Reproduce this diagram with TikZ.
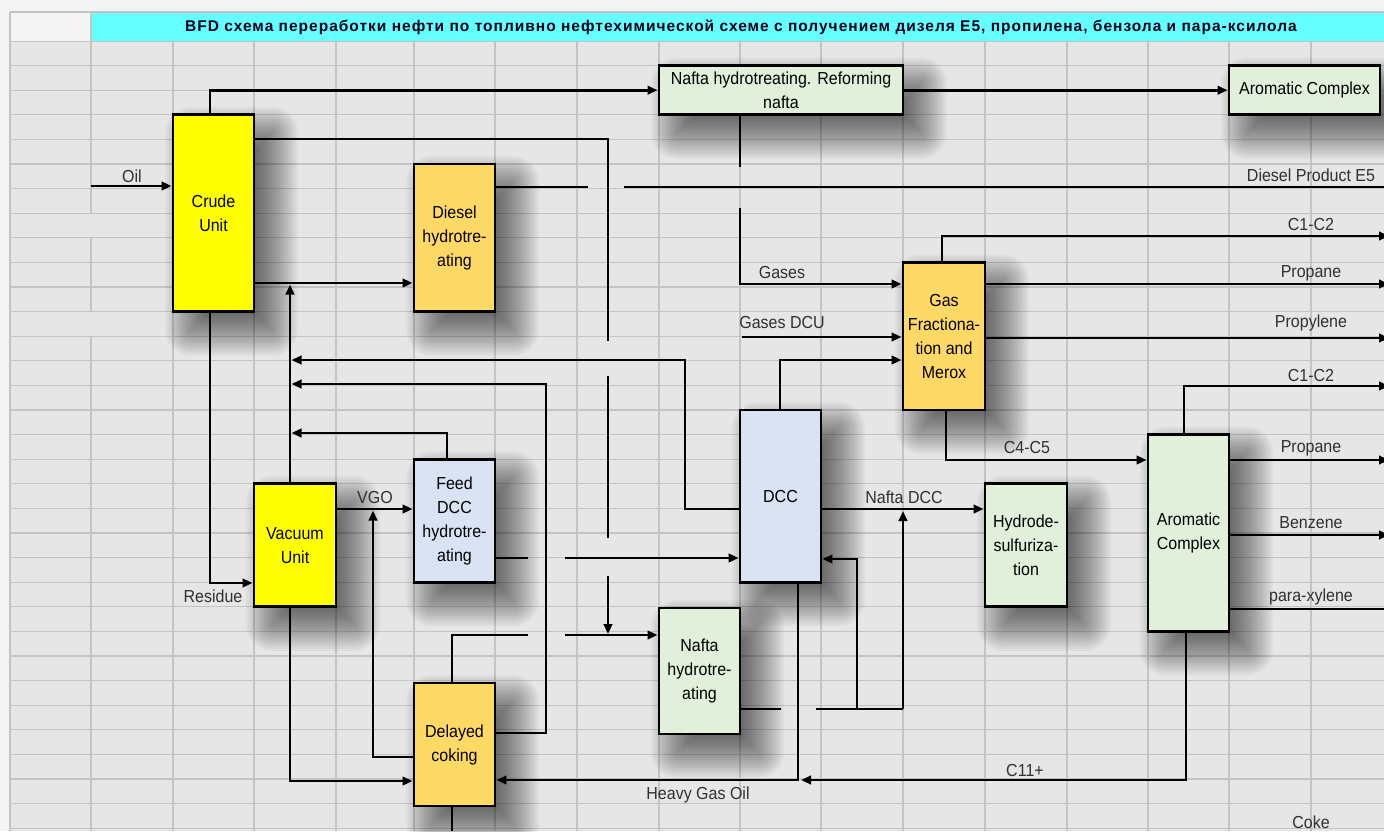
\documentclass[tikz,border=0pt]{standalone}
\usepackage{fontspec}
\setmainfont{Liberation Sans}
\newfontfamily\titlefont[LetterSpace=6.5]{Liberation Sans}
\newfontfamily\narrowsans[FakeStretch=0.92]{Liberation Sans}
\usetikzlibrary{arrows.meta}
\definecolor{cyel}{HTML}{FFFF00}
\definecolor{corg}{HTML}{FFD966}
\definecolor{cgrn}{HTML}{E2EFDA}
\definecolor{cblu}{HTML}{DAE3F3}
\definecolor{ctitle}{HTML}{66FFFF}
\definecolor{ccell}{HTML}{E6E6E6}
\definecolor{cgrid}{HTML}{C4C4C4}
\definecolor{clab}{HTML}{303030}
\definecolor{cout}{HTML}{F4F4F4}
\newcommand\boxfont{\narrowsans\fontsize{17.4}{24}\selectfont}
\newcommand\labfont{\narrowsans\fontsize{17.4}{19}\selectfont}
\newcommand\shbox[4]{%
  \foreach \e in {-18,-16,...,26}{%
    \pgfmathsetmacro\rr{max(\e,0.5)}%
    \fill[black,opacity=0.032,rounded corners=\rr pt] ({#1+18-(\e)},{#2+18-(\e)}) rectangle ({#3+18+(\e)},{#4+18+(\e)});
  }%
}
\tikzset{
  box/.style={draw=black, line width=2.9pt, align=center, inner sep=0pt, font=\boxfont, text=black},
  flow/.style={line width=2.7pt, -{Triangle[length=10pt,width=8.5pt]}},
  pipe/.style={line width=2.7pt},
  lab/.style={font=\labfont, text=clab, inner sep=0pt},
  gridl/.style={cgrid, line width=1.3pt}
}
\begin{document}
\begin{tikzpicture}[x=1pt,y=-1pt]
\useasboundingbox (0,0) rectangle (1384,831);
% background
\fill[cout] (0,0) rectangle (1384,831);
\fill[ccell] (10,12) rectangle (1384,831);
\foreach \k in {0,...,32} \draw[gridl] (10,{41+24.6*\k}) -- (1384,{41+24.6*\k});
\foreach \x in {173,254,336,414,495,577,659,740,821,903,985,1067,1148,1229,1311} \draw[gridl] (\x,41) -- (\x,831);
\draw[gridl] (91,41) -- (91,213.2);
\draw[gridl] (91,237.8) -- (91,311.6);
\draw[gridl] (91,336.2) -- (91,831);
\fill[cout] (10,12) rectangle (91,41);
\fill[ctitle] (91,12) rectangle (1384,41);
\draw[gridl] (10,12) -- (1384,12);
\draw[gridl] (10,12) -- (10,831);
\draw[gridl] (91,12) -- (91,41);
\node[font=\titlefont\bfseries\fontsize{15.5}{18}\selectfont, text=black!90!blue, inner sep=0pt] (title) at (741,27) {BFD схема переработки нефти по топливно нефтехимической схеме с получением дизеля Е5, пропилена, бензола и пара-ксилола};
% shadows
\shbox{173}{114.8}{254}{311.6}
\shbox{414}{164}{495}{311.6}
\shbox{659}{65.6}{903}{114.8}
\shbox{1229}{65.6}{1380}{114.8}
\shbox{903}{262.4}{985}{410}
\shbox{740}{410}{821}{582.2}
\shbox{254}{483.8}{336}{606.8}
\shbox{414}{459.2}{495}{582.2}
\shbox{985}{483.8}{1067}{606.8}
\shbox{1148}{434.6}{1229}{631.4}
\shbox{659}{608}{740}{734}
\shbox{414}{683}{495}{806}
% boxes
\node[box, fill=cyel, minimum width=81pt, minimum height=196.8pt] (crude) at (213.5,213.2) {Crude\\Unit};
\node[box, fill=corg, minimum width=81pt, minimum height=147.6pt] (dht) at (454.5,237.8) {Diesel\\hydrotre-\\ating};
\node[box, fill=cgrn, minimum width=244pt, minimum height=49.2pt] (nhr) at (781,90.2) {Nafta hydrotreating. Reforming\\nafta};
\node[box, fill=cgrn, minimum width=151pt, minimum height=49.2pt] (arom1) at (1304.5,90.2) {Aromatic Complex};
\node[box, fill=corg, minimum width=82pt, minimum height=147.6pt] (gfm) at (944,336.2) {Gas\\Fractiona-\\tion and\\Merox};
\node[box, fill=cblu, minimum width=81pt, minimum height=172.2pt] (dcc) at (780.5,496.1) {DCC};
\node[box, fill=cyel, minimum width=82pt, minimum height=123pt] (vac) at (295,545.3) {Vacuum\\Unit};
\node[box, fill=cblu, minimum width=81pt, minimum height=123pt] (fdcc) at (454.5,520.7) {Feed\\DCC\\hydrotre-\\ating};
\node[box, fill=cgrn, minimum width=82pt, minimum height=123pt] (hds) at (1026,545.3) {Hydrode-\\sulfuriza-\\tion};
\node[box, fill=cgrn, minimum width=81pt, minimum height=196.8pt] (arom2) at (1188.5,533) {Aromatic\\Complex};
\node[box, fill=cgrn, minimum width=81pt, minimum height=126pt] (nht) at (699.5,671) {Nafta\\hydrotre-\\ating};
\node[box, fill=corg, minimum width=81pt, minimum height=123pt] (dco) at (454.5,744.5) {Delayed\\coking};
% coordinates
\coordinate (oil0) at (91,186);
\coordinate (c2) at (210,89);
\coordinate (c3) at (0,283);
\coordinate (c4y) at (0,139);
\coordinate (c4a) at (608,341);
\coordinate (c4b) at (608,376);
\coordinate (c4c) at (608,538);
\coordinate (c4d) at (608,576);
\coordinate (c4e) at (608,634);
\coordinate (c5a) at (588,187);
\coordinate (c5b) at (624,187);
\coordinate (c5c) at (1384,187);
\coordinate (c7a) at (740,167);
\coordinate (c7b) at (740,208);
\coordinate (c7y) at (0,284);
\coordinate (c8) at (742,337);
\coordinate (c9) at (780,360);
\coordinate (c10x) at (942,0);
\coordinate (c10) at (1389,236);
\coordinate (c11) at (1389,284);
\coordinate (c12) at (1389,338);
\coordinate (c13x) at (946,460);
\coordinate (c14x) at (1184,0);
\coordinate (c14) at (1389,386);
\coordinate (c15) at (1389,460);
\coordinate (c16) at (1389,535);
\coordinate (c17) at (1384,609);
\coordinate (c18) at (0,509);
\coordinate (c19a) at (903,709);
\coordinate (c19b) at (903,511);
\coordinate (c20a) at (781,709);
\coordinate (c20b) at (816,709);
\coordinate (c21a) at (857,709);
\coordinate (c21y) at (0,559);
\coordinate (c22) at (798,780);
\coordinate (c23x) at (1186,0);
\coordinate (c23e) at (801,780);
\coordinate (c24) at (290,781);
\coordinate (c25) at (210,583);
\coordinate (c26) at (290,284.5);
\coordinate (c27a) at (685,509);
\coordinate (c27b) at (291.5,360);
\coordinate (c28a) at (546,733);
\coordinate (c28b) at (291.5,384);
\coordinate (c29x) at (447,433);
\coordinate (c29b) at (291.5,433);
\coordinate (c31a) at (373,757);
\coordinate (c31b) at (373,510.5);
\coordinate (c32a) at (528,558);
\coordinate (c32b) at (565,558);
\coordinate (c33a) at (452,635);
\coordinate (c33b) at (528,635);
\coordinate (c33c) at (565,635);
\coordinate (c34) at (452,831);
% connectors
\draw[flow] (oil0) -- (oil0 -| crude.west);
\draw[flow] (crude.north -| c2) |- (nhr.west);
\draw[flow] (crude.east |- c3) -- (dht.west |- c3);
\draw[pipe] (crude.east |- c4y) -| (c4a);
\draw[pipe] (c4b) -- (c4c);
\draw[flow] (c4d) -- (c4e);
\draw[pipe] (dht.east |- c5a) -- (c5a);
\draw[pipe] (c5b) -- (c5c);
\draw[flow] (nhr.east) -- (arom1.west);
\draw[pipe] (nhr.south -| c7a) -- (c7a);
\draw[flow] (c7b) |- (gfm.west |- c7y);
\draw[flow] (c8) -- (gfm.west |- c8);
\draw[flow] (dcc.north -| c9) |- (gfm.west |- c9);
\draw[flow] (gfm.north -| c10x) |- (c10);
\draw[flow] (gfm.east |- c11) -- (c11);
\draw[flow] (gfm.east |- c12) -- (c12);
\draw[flow] (gfm.south -| c13x) |- (arom2.west |- c13x);
\draw[flow] (arom2.north -| c14x) |- (c14);
\draw[flow] (arom2.east |- c15) -- (c15);
\draw[flow] (arom2.east |- c16) -- (c16);
\draw[pipe] (arom2.east |- c17) -- (c17);
\draw[flow] (dcc.east |- c18) -- (hds.west |- c18);
\draw[flow] (c19a) -- (c19b);
\draw[pipe] (nht.east |- c20a) -- (c20a);
\draw[pipe] (c20b) -- (c19a);
\draw[flow] (c21a) |- (dcc.east |- c21y);
\draw[flow] (dcc.south -| c22) |- (dco.east |- c22);
\draw[flow] (arom2.south -| c23x) |- (c23e);
\draw[flow] (vac.south -| c24) |- (dco.west |- c24);
\draw[flow] (crude.south -| c25) |- (vac.west |- c25);
\draw[flow] (vac.north -| c26) -- (c26);
\draw[flow] (dcc.west |- c27a) -- (c27a) |- (c27b);
\draw[flow] (dco.east |- c28a) -- (c28a) |- (c28b);
\draw[flow] (fdcc.north -| c29x) |- (c29b);
\draw[flow] (vac.east |- c18) -- (fdcc.west |- c18);
\draw[flow] (dco.west |- c31a) -- (c31a) -- (c31b);
\draw[pipe] (fdcc.east |- c32a) -- (c32a);
\draw[flow] (c32b) -- (dcc.west |- c32b);
\draw[pipe] (dco.north -| c33a) -- (c33a) -- (c33b);
\draw[flow] (c33c) -- (nht.west |- c33c);
\draw[pipe] (dco.south -| c34) -- (c34);
% labels
\node[lab] (loil) at (132,176) {Oil};
\node[lab] (ldiesel) at (1311,175) {Diesel Product E5};
\node[lab] (lgases) at (782,273) {Gases};
\node[lab] (lgdcu) at (782,323) {Gases DCU};
\node[lab] (lc12a) at (1311,225) {C1-C2};
\node[lab] (lprop1) at (1311,273) {Propane};
\node[lab] (lpropy) at (1311,323) {Propylene};
\node[lab] (lc12b) at (1311,376) {C1-C2};
\node[lab] (lc45) at (1027,448) {C4-C5};
\node[lab] (lprop2) at (1311,448) {Propane};
\node[lab] (lbenz) at (1311,523) {Benzene};
\node[lab] (lpx) at (1311,597) {para-xylene};
\node[lab] (lndcc) at (904,497) {Nafta DCC};
\node[lab] (lvgo) at (375,497) {VGO};
\node[lab] (lres) at (213,596) {Residue};
\node[lab] (lc11) at (1025,770) {C11+};
\node[lab] (lhgo) at (698,795) {Heavy Gas Oil};
\node[lab] (lcoke) at (1311,822) {Coke};
\end{tikzpicture}
\end{document}
